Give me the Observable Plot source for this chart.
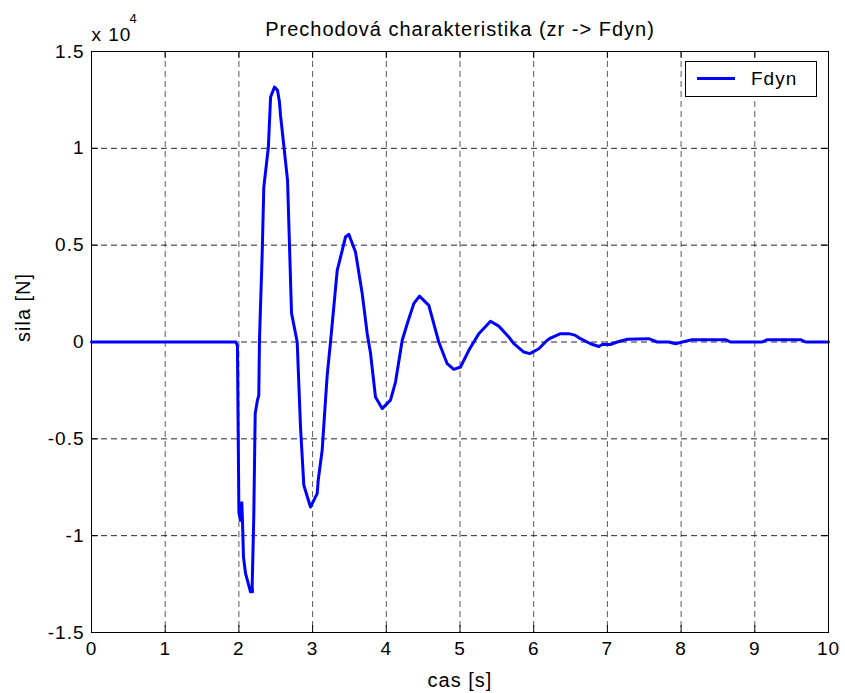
<!DOCTYPE html>
<html>
<head>
<meta charset="utf-8">
<script src="https://cdn.jsdelivr.net/npm/d3@7"></script>
<script src="https://cdn.jsdelivr.net/npm/@observablehq/plot@0.6"></script>
<style>
  html, body { margin: 0; padding: 0; background: #fff; }
  #wrap { position: relative; width: 845px; height: 693px; }
  #wrap svg text { letter-spacing: 1px; }
  #legend { position: absolute; left: 685px; top: 61px; width: 132px; height: 36px; border: 1px solid #000; background: #fff; box-sizing: border-box; font-family: "Liberation Sans", Arial, sans-serif; font-size: 19px; letter-spacing: 1px; }
  #legend .sw { position: absolute; left: 11px; top: 15px; width: 38px; height: 0; border-top: 3px solid #0000ff; }
  #legend .lb { position: absolute; left: 65px; top: 6px; line-height: 22px; }
</style>
</head>
<body>
<div id="wrap"></div>
<script>
const title = "Prechodová charakteristika (zr -> Fdyn)";
const xLabel = "cas [s]";
const yLabel = "sila [N]";
const seriesName = "Fdyn";
const exponentLabel = "x 10";
const exponent = "4";
const xTicks = [0,1,2,3,4,5,6,7,8,9,10];
const yTicks = [-1.5,-1,-0.5,0,0.5,1,1.5];
const yTickLabels = ["-1.5","-1","-0.5","0","0.5","1","1.5"];

// time [s]
const t = [0,1.96,1.98,2.0,2.02,2.04,2.05,2.062,2.09,2.157,2.185,2.18,2.202,2.221,2.252,2.27,2.279,2.316,2.338,2.40,2.43,2.483,2.524,2.55,2.565,2.66,2.714,2.791,2.836,2.881,2.971,3.062,3.076,3.13,3.175,3.198,3.243,3.334,3.402,3.446,3.491,3.582,3.673,3.741,3.786,3.853,3.944,4.057,4.125,4.216,4.284,4.373,4.45,4.577,4.712,4.826,4.916,5.007,5.12,5.255,5.414,5.526,5.662,5.73,5.866,5.947,6.069,6.183,6.228,6.364,6.476,6.567,6.635,6.77,6.883,6.93,7.04,7.133,7.27,7.56,7.676,7.833,7.924,8.015,8.15,8.6,8.67,9.1,9.17,9.62,9.69,10];
// force [x 10^4 N]
const F = [0,0,-0.02,-0.88,-0.92,-0.83,-0.94,-1.11,-1.195,-1.29,-1.29,-1.26,-0.90,-0.37,-0.30,-0.275,0.01,0.458,0.80,1.007,1.265,1.316,1.30,1.24,1.17,0.835,0.149,0,-0.44,-0.74,-0.852,-0.783,-0.714,-0.559,-0.30,-0.172,0,0.37,0.473,0.542,0.556,0.465,0.25,0.043,-0.058,-0.284,-0.344,-0.30,-0.207,0.009,0.094,0.198,0.237,0.189,0,-0.112,-0.141,-0.129,-0.043,0.043,0.107,0.082,0.026,-0.008,-0.052,-0.06,-0.035,0.009,0.02,0.043,0.043,0.034,0.017,-0.009,-0.023,-0.013,-0.013,0,0.014,0.017,0,0,-0.009,0,0.012,0.012,0,0,0.012,0.012,0,0];

const data = t.map((d, i) => ({t: d, F: F[i]}));
const font = "'Liberation Sans', Arial, sans-serif";
const xDom = [0, 10], yDom = [-1.5, 1.5];
const tickLenX = 0.096, tickLenY = 0.036; // ~7px inward

const chart = Plot.plot({
  width: 845,
  height: 693,
  marginLeft: 91,
  marginRight: 17,
  marginTop: 51,
  marginBottom: 61,
  style: {fontFamily: font, fontSize: "19px", background: "#fff", color: "#000"},
  x: {domain: xDom, ticks: xTicks},
  y: {domain: yDom, ticks: yTicks},
  marks: [
    Plot.ruleX(xTicks.slice(1, -1), {stroke: "#000", strokeOpacity: 0.65, strokeDasharray: "6,4", strokeWidth: 1}),
    Plot.ruleY(yTicks.slice(1, -1), {stroke: "#000", strokeOpacity: 0.85, strokeDasharray: "6,4", strokeWidth: 1}),
    // inward tick marks
    Plot.ruleX(xTicks, {y1: yDom[0], y2: yDom[0] + tickLenY, stroke: "#000"}),
    Plot.ruleX(xTicks, {y1: yDom[1], y2: yDom[1] - tickLenY, stroke: "#000"}),
    Plot.ruleY(yTicks, {x1: xDom[0], x2: xDom[0] + tickLenX, stroke: "#000"}),
    Plot.ruleY(yTicks, {x1: xDom[1], x2: xDom[1] - tickLenX, stroke: "#000"}),
    Plot.line(data, {x: "t", y: "F", stroke: "#0000ff", strokeWidth: 3, strokeLinejoin: "round"}),
    Plot.frame({stroke: "#000", strokeWidth: 1}),
    Plot.axisX({ticks: xTicks, tickSize: 0, tickPadding: 9, label: null, fontSize: 19}),
    Plot.axisY({ticks: yTicks, tickSize: 0, tickPadding: 7, tickFormat: (d) => yTickLabels[yTicks.indexOf(d)], label: null, fontSize: 19}),
    Plot.text([xLabel], {frameAnchor: "bottom", lineAnchor: "middle", dy: 48, fontSize: 20, fill: "#000"}),
    Plot.text([yLabel], {frameAnchor: "left", lineAnchor: "middle", dx: -68, rotate: -90, fontSize: 20, fill: "#000"}),
    Plot.text([title], {frameAnchor: "top", lineAnchor: "middle", dy: -22, fontSize: 20, fill: "#000"}),
    Plot.text([exponentLabel], {frameAnchor: "top-left", lineAnchor: "middle", dy: -17, dx: 0, textAnchor: "start", fontSize: 19, fill: "#000"}),
    Plot.text([exponent], {frameAnchor: "top-left", lineAnchor: "middle", dy: -33, dx: 38, textAnchor: "start", fontSize: 13, fill: "#000"})
  ]
});

const wrap = document.getElementById("wrap");
wrap.appendChild(chart);
const lg = document.createElement("div");
lg.id = "legend";
lg.innerHTML = `<div class="sw"></div><div class="lb">${seriesName}</div>`;
wrap.appendChild(lg);
</script>
</body>
</html>
